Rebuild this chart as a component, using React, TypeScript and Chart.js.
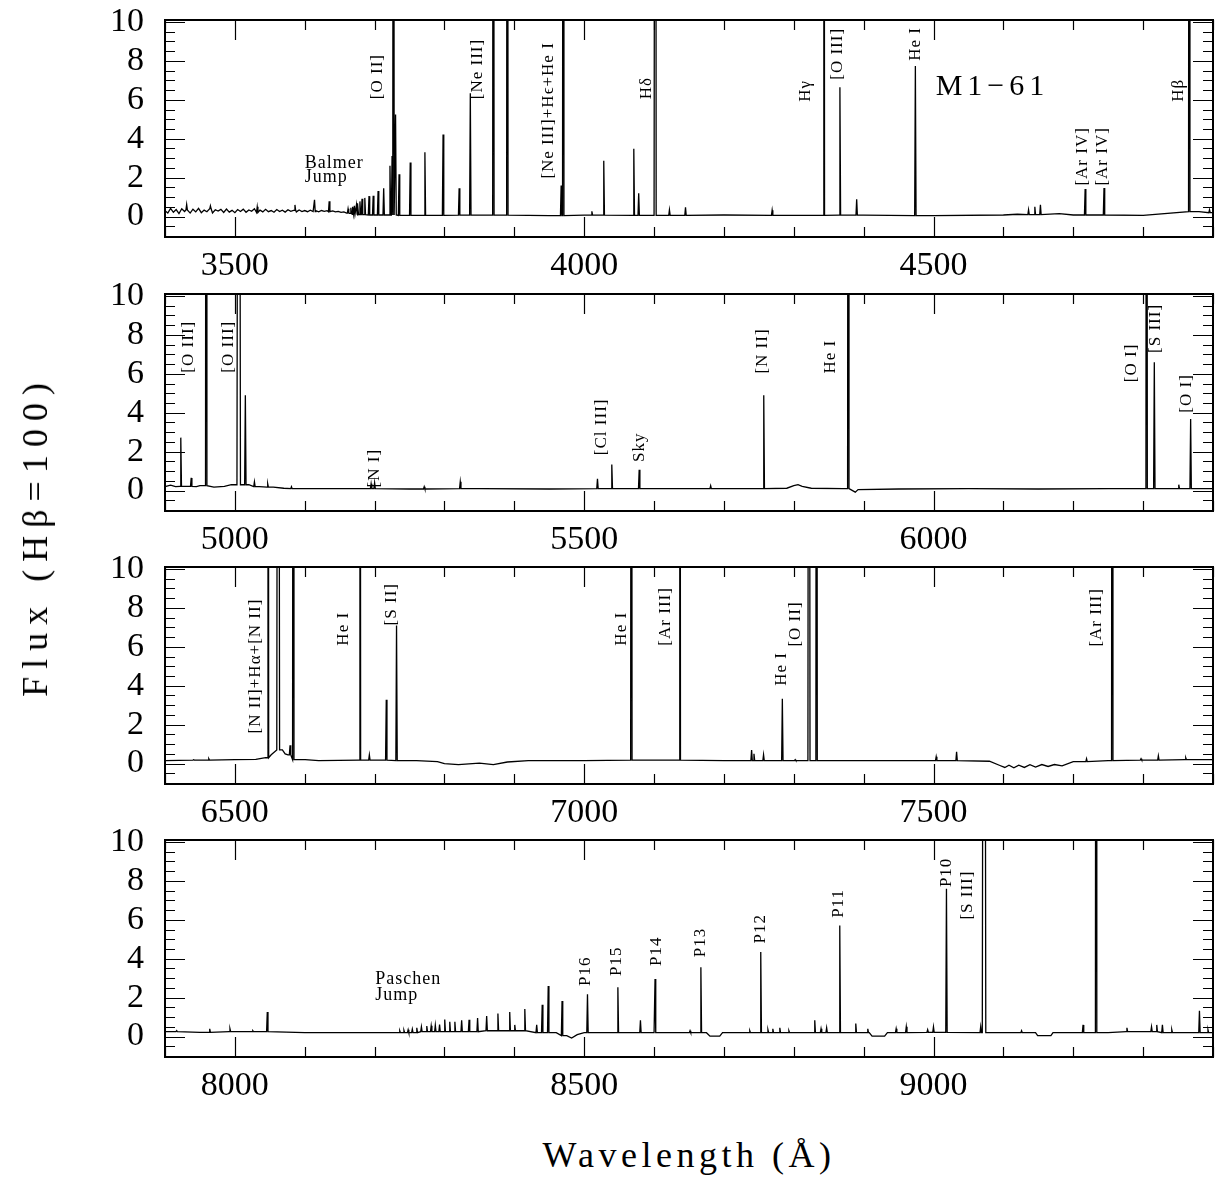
import React, { useEffect, useRef } from "react";
import { Chart, registerables } from "chart.js";

Chart.register(...registerables);

// ---------------- DATA ----------------
const PANEL_RANGES: number[][] = [
  [3400, 4900],
  [4900, 6400],
  [6400, 7900],
  [7900, 9400],
];
const X_TICK_LABELS: number[][] = [
  [3500, 4000, 4500],
  [5000, 5500, 6000],
  [6500, 7000, 7500],
  [8000, 8500, 9000],
];
const Y_TICK_LABELS: number[] = [0, 2, 4, 6, 8, 10];
const Y_RANGE: number[] = [-1.05, 10.1];

// continuum samples [wavelength, flux]
const P1_CONT: number[][] = [
  [3400, 0.3], [3404, 0.18], [3408, 0.42], [3412, 0.22], [3416, 0.36], [3420, 0.15], [3424, 0.4], [3428, 0.26],
  [3432, 0.34], [3436, 0.18], [3440, 0.38], [3444, 0.24], [3448, 0.42], [3452, 0.2], [3456, 0.33], [3460, 0.25],
  [3464, 0.4], [3468, 0.19], [3472, 0.35], [3476, 0.28], [3480, 0.37], [3484, 0.21], [3488, 0.39], [3492, 0.23],
  [3496, 0.32], [3500, 0.2], [3504, 0.36], [3508, 0.26], [3512, 0.38], [3516, 0.22], [3520, 0.34], [3524, 0.27],
  [3528, 0.4], [3532, 0.21], [3536, 0.33], [3540, 0.24], [3544, 0.37], [3548, 0.25], [3552, 0.31], [3556, 0.22],
  [3560, 0.36], [3564, 0.26], [3568, 0.33], [3572, 0.23], [3576, 0.35], [3580, 0.27], [3584, 0.32], [3588, 0.24],
  [3592, 0.34], [3596, 0.26], [3600, 0.31], [3604, 0.25], [3608, 0.33], [3612, 0.26], [3616, 0.3], [3620, 0.24],
  [3624, 0.31], [3628, 0.27], [3632, 0.3], [3636, 0.25], [3640, 0.29], [3644, 0.24], [3648, 0.27], [3652, 0.22],
  [3656, 0.24], [3660, 0.18], [3664, 0.16], [3668, 0.12], [3680, 0.1], [3700, 0.08], [3760, 0.06], [3850, 0.07],
  [3950, 0.05], [4000, 0.07], [4100, 0.06], [4200, 0.08], [4300, 0.06], [4400, 0.07], [4500, 0.05], [4600, 0.08],
  [4620, 0.12], [4640, 0.1], [4680, 0.15], [4700, 0.08], [4800, 0.06], [4880, 0.25], [4900, 0.2],
];
// emission lines [wavelength, peak, half-width(A) optional]
const P1_LINES: number[][] = [
  [3431, 0.62], [3465, 0.55], [3532, 0.5], [3586, 0.6], [3614, 0.86], [3635, 0.79],
  [3662, 0.4], [3666, 0.45], [3669, 0.5], [3671, 0.55], [3674, 0.6], [3676, 0.68], [3679, 0.78],
  [3682, 0.91], [3686, 0.96], [3692, 1.05], [3698, 1.07], [3705, 1.31], [3713, 1.45], [3722, 2.61],
  [3725, 3.11], [3727, 60], [3730, 5.25], [3735, 2.17], [3751, 2.78], [3772, 3.3], [3798, 4.22],
  [3821, 1.45], [3837, 6.34], [3870, 60], [3890, 60], [3967, 1.6], [3970, 60], [4011, 0.27],
  [4028, 2.87], [4071, 3.48], [4078, 1.2], [4102, 60], [4122, 0.34], [4145, 0.48], [4269, 0.33],
  [4343, 60], [4366, 6.64], [4390, 0.89], [4474, 7.73], [4636, 0.35], [4645, 0.5], [4653, 0.6],
  [4717, 1.42], [4744, 1.47], [4866, 60], [4895, 0.35],
];
const P2_CONT: number[][] = [
  [4900, 0.2], [4908, 0.28], [4915, 0.2], [4930, 0.22], [4945, 0.2], [4950, 0.25], [4970, 0.18], [4985, 0.22],
  [4995, 0.3], [5020, 0.3], [5035, 0.2], [5055, 0.18], [5070, 0.12], [5090, 0.1], [5150, 0.1], [5250, 0.08],
  [5350, 0.1], [5450, 0.08], [5550, 0.1], [5650, 0.1], [5750, 0.1], [5790, 0.12], [5800, 0.25], [5806, 0.3],
  [5812, 0.22], [5825, 0.12], [5870, 0.1], [5888, -0.08], [5892, 0.05], [5950, 0.08], [6050, 0.1], [6150, 0.08],
  [6250, 0.1], [6400, 0.1],
];
const P2_LINES: number[][] = [
  [4922.6, 2.72], [4937.5, 0.65], [4959, 60], [5005.5, 60, 2.5], [5015, 4.9], [5028, 0.45], [5047, 0.35],
  [5081, 0.2], [5195, 0.35], [5200, 0.4], [5271, 0.2], [5322.6, 0.45], [5519, 0.6], [5539.5, 1.34],
  [5578.7, 1.07], [5681, 0.25], [5757, 4.9], [5878, 60], [6305, 60], [6316, 6.59], [6351, 0.3], [6368, 3.68],
];
const P3_CONT: number[][] = [
  [6400, 0.15], [6450, 0.18], [6500, 0.2], [6530, 0.22], [6544, 0.3], [6552, 0.45], [6568, 0.7], [6572, 0.5],
  [6576, 0.45], [6590, 0.2], [6620, 0.15], [6700, 0.18], [6760, 0.15], [6790, 0.1], [6800, 0.0], [6820, -0.05],
  [6850, 0.02], [6870, -0.05], [6890, 0.08], [6920, 0.15], [7000, 0.15], [7100, 0.18], [7200, 0.15], [7300, 0.15],
  [7400, 0.15], [7500, 0.15], [7580, 0.12], [7595, -0.1], [7602, -0.2], [7608, -0.08], [7615, -0.22], [7622, -0.08],
  [7630, -0.2], [7638, -0.06], [7646, -0.18], [7655, -0.05], [7664, -0.15], [7673, -0.05], [7684, -0.12],
  [7700, 0.1], [7750, 0.15], [7800, 0.18], [7900, 0.2],
];
const P3_LINES: number[][] = [
  [6441, 0.2], [6462.7, 0.25], [6547.4, 60], [6562, 60, 2], [6579, 0.94], [6583.6, 60], [6600.6, 0.2],
  [6679, 60], [6692.5, 0.45], [6716.7, 3.28], [6731.4, 7.1], [7067.5, 60], [7136.8, 60], [7239.6, 0.7],
  [7243, 0.5], [7256.7, 0.45], [7283.6, 3.33], [7302, 0.2], [7321.7, 60, 1.5], [7332.6, 60], [7503.8, 0.35],
  [7533, 0.6], [7719, 0.25], [7755.8, 60], [7797, 0.25], [7821.8, 0.4], [7861, 0.3],
];
const P4_CONT: number[][] = [
  [7900, 0.25], [7950, 0.22], [8000, 0.25], [8100, 0.2], [8200, 0.2], [8230, 0.2], [8300, 0.25], [8400, 0.3],
  [8460, 0.2], [8475, 0.05], [8482, -0.08], [8490, 0.1], [8500, 0.2], [8600, 0.2], [8675, 0.2], [8680, 0.02],
  [8694, 0.02], [8698, 0.2], [8800, 0.2], [8908, 0.2], [8912, 0.02], [8930, 0.02], [8934, 0.2], [9000, 0.22],
  [9100, 0.2], [9146, 0.2], [9149, 0.05], [9168, 0.05], [9171, 0.2], [9250, 0.2], [9300, 0.25], [9350, 0.2],
  [9400, 0.2],
];
const P4_LINES: number[][] = [
  [7916.7, 0.3], [7964, 0.4], [7993, 0.4], [8025.7, 0.3], [8046.4, 1.26], [8236, 0.3], [8242, 0.32],
  [8248, 0.35], [8254, 0.38], [8260.4, 0.45], [8267, 0.5], [8274.7, 0.54], [8281, 0.55], [8286.9, 0.59],
  [8293, 0.62], [8300.4, 0.88], [8307.6, 0.76], [8314.9, 0.76], [8324.6, 0.83], [8335.2, 0.86], [8347.4, 0.95],
  [8360.4, 1.05], [8376.5, 1.18], [8393.4, 1.26], [8400.6, 0.6], [8415, 1.41], [8432, 0.6], [8439.9, 1.64],
  [8448.5, 2.6], [8468.3, 1.83], [8504.7, 2.17], [8548.2, 2.53], [8580.5, 0.83], [8601.4, 2.96], [8651.5, 0.3],
  [8667, 3.56], [8737, 0.3], [8752.7, 4.35], [8763, 0.35], [8770, 0.4], [8780, 0.45], [8793, 0.3], [8830, 0.84],
  [8839, 0.4], [8847, 0.45], [8865.8, 5.71], [8888.7, 0.67], [8905.9, 0.4], [8946.5, 0.4], [8961, 0.5],
  [8991.6, 0.35], [8999.9, 0.5], [9018.5, 7.59], [9067.5, 0.5], [9072.3, 60, 2.5], [9126, 0.3], [9214, 0.6],
  [9232.7, 60], [9276.8, 0.45], [9312, 0.5], [9319.5, 0.6], [9327.6, 0.6], [9341, 0.35], [9380.6, 1.33],
  [9392.8, 0.35],
];

// line identifications: [text, wavelength, flux at start of text]
const P1_IDS: (string | number)[][] = [
  ["[O II]", 3704.6, 6.03], ["[Ne III]", 3847.4, 6.03], ["[Ne III]+H\u03f5+He I", 3949, 1.95],
  ["H\u03b4", 4089, 6.03], ["H\u03b3", 4316.4, 5.9], ["[O III]", 4363, 7.03], ["He I", 4474.6, 8.0],
  ["[Ar IV]", 4712.7, 1.59], ["[Ar IV]", 4742, 1.59], ["H\u03b2", 4851, 5.9],
];
const P2_IDS: (string | number)[][] = [
  ["[O III]", 4933.6, 6.06], ["[O III]", 4991.3, 6.06], ["[N I]", 5199.8, 0.16], ["[Cl III]", 5525, 1.82],
  ["Sky", 5579.5, 1.47], ["[N II]", 5755.6, 6.01], ["He I", 5852.9, 6.01], ["[O I]", 6282.7, 5.57],
  ["[S III]", 6318.3, 7.07], ["[O I]", 6362.4, 4.0],
];
const P3_IDS: (string | number)[][] = [
  ["[N II]+H\u03b1+[N II]", 6529, 1.55], ["He I", 6656.2, 6.06], ["[S II]", 6724, 7.1], ["He I", 7053, 6.06],
  ["[Ar III]", 7115.9, 6.06], ["He I", 7283, 4.0], ["[O II]", 7303, 6.01], ["[Ar III]", 7733.6, 6.01],
];
const P4_IDS: (string | number)[][] = [
  ["P16", 8502.3, 2.6], ["P15", 8545.8, 3.11], ["P14", 8603.9, 3.63], ["P13", 8667.1, 4.08],
  ["P12", 8751.7, 4.78], ["P11", 8864.4, 6.1], ["P10", 9018, 7.68], ["[S III]", 9049.3, 6.01],
];
// horizontal notes: [text, wavelength (left), flux (baseline)]
const P1_NOTES: (string | number)[][] = [["Balmer", 3600, 2.51], ["Jump", 3600, 1.79], ["M1\u221261", 4503, 6.24]];
const P4_NOTES: (string | number)[][] = [["Paschen", 8201, 2.68], ["Jump", 8201, 1.87]];

const X_TITLE = "Wavelength (\u00c5)";
const Y_TITLE = "Flux (H\u03b2=100)";

const PANELS = [
  { cont: P1_CONT, lines: P1_LINES, ids: P1_IDS, notes: P1_NOTES },
  { cont: P2_CONT, lines: P2_LINES, ids: P2_IDS, notes: [] as (string | number)[][] },
  { cont: P3_CONT, lines: P3_LINES, ids: P3_IDS, notes: [] as (string | number)[][] },
  { cont: P4_CONT, lines: P4_LINES, ids: P4_IDS, notes: P4_NOTES },
];

// ---------------- LAYOUT / STYLE ----------------
const PANEL_TOPS = [20, 294, 567, 840];
const CANVAS_W = 1216;
const CANVAS_H = 275;
const PAD_TOP = 12;
const SERIF = '"Liberation Serif", "DejaVu Serif", serif';

function buildSpectrum(cont: number[][], lines: number[][]) {
  const windows = lines.map((l) => [l[0] - (l[2] ?? 1), l[0] + (l[2] ?? 1)]);
  const pts: { x: number; y: number }[] = [];
  for (const [x, y] of cont) {
    if (!windows.some(([a, b]) => x > a && x < b)) pts.push({ x, y });
  }
  for (const l of lines) {
    const hw = l[2] ?? 1;
    let base = cont[0][1];
    let best = Infinity;
    for (const c of cont) {
      const d = Math.abs(c[0] - l[0]);
      if (d < best) { best = d; base = c[1]; }
    }
    pts.push({ x: l[0] - hw, y: base }, { x: l[0], y: l[1] }, { x: l[0] + hw, y: base });
  }
  pts.sort((a, b) => a.x - b.x);
  return pts;
}

const framePlugin = {
  id: "frameTicks",
  afterDatasetsDraw(chart: any) {
    const { ctx, chartArea, scales } = chart;
    const { left, right, top, bottom } = chartArea;
    const x = scales.x, y = scales.y;
    ctx.save();
    ctx.strokeStyle = "#000";
    ctx.lineWidth = 1.2;
    ctx.beginPath();
    for (let v = Math.ceil(x.min / 100) * 100; v <= x.max; v += 100) {
      const px = Math.round(x.getPixelForValue(v)) + 0.5;
      const len = v % 500 === 0 ? 20 : 10;
      ctx.moveTo(px, bottom); ctx.lineTo(px, bottom - len);
      ctx.moveTo(px, top); ctx.lineTo(px, top + len);
    }
    for (let k = Math.ceil(y.min * 2); k <= Math.floor(y.max * 2); k++) {
      const v = k / 2;
      const py = Math.round(y.getPixelForValue(v)) + 0.5;
      const len = v % 2 === 0 ? 20 : 10;
      ctx.moveTo(left, py); ctx.lineTo(left + len, py);
      ctx.moveTo(right, py); ctx.lineTo(right - len, py);
    }
    ctx.stroke();
    ctx.lineWidth = 2;
    ctx.strokeRect(left, top, right - left, bottom - top);
    ctx.restore();
  },
};

const textPlugin = {
  id: "lineIds",
  afterDatasetsDraw(chart: any, _args: any, opts: any) {
    const { ctx, scales } = chart;
    const x = scales.x, y = scales.y;
    ctx.save();
    ctx.fillStyle = "#000";
    for (const [txt, lam, val] of opts.ids || []) {
      const px = x.getPixelForValue(lam), py = y.getPixelForValue(val);
      ctx.save();
      ctx.translate(px, py);
      ctx.rotate(-Math.PI / 2);
      ctx.font = `17px ${SERIF}`;
      (ctx as any).letterSpacing = "1px";
      ctx.textAlign = "left";
      ctx.textBaseline = "middle";
      ctx.fillText(txt, 0, 0);
      ctx.restore();
    }
    for (const [txt, lam, val] of opts.notes || []) {
      const px = x.getPixelForValue(lam), py = y.getPixelForValue(val);
      const big = String(txt).startsWith("M1");
      ctx.font = big ? `30px ${SERIF}` : `18px ${SERIF}`;
      (ctx as any).letterSpacing = big ? "5px" : "1px";
      ctx.textAlign = "left";
      ctx.textBaseline = "alphabetic";
      ctx.fillText(txt, px, py);
    }
    ctx.restore();
  },
};

function Panel({ index }: { index: number }) {
  const ref = useRef<HTMLCanvasElement>(null);
  useEffect(() => {
    const p = PANELS[index];
    const chart = new Chart(ref.current as HTMLCanvasElement, {
      type: "line",
      data: {
        datasets: [
          {
            data: buildSpectrum(p.cont, p.lines),
            borderColor: "#000",
            borderWidth: 1.3,
            pointRadius: 0,
            tension: 0,
            fill: false,
          },
        ],
      },
      options: {
        responsive: false,
        maintainAspectRatio: false,
        animation: false,
        events: [],
        layout: { padding: { top: PAD_TOP, right: 3, left: 0, bottom: 0 } },
        plugins: {
          legend: { display: false },
          tooltip: { enabled: false },
          lineIds: { ids: p.ids, notes: p.notes },
        } as any,
        scales: {
          x: {
            type: "linear",
            min: PANEL_RANGES[index][0],
            max: PANEL_RANGES[index][1],
            grid: { display: false, drawTicks: false },
            border: { display: false },
            afterBuildTicks: (s: any) => {
              s.ticks = X_TICK_LABELS[index].map((v) => ({ value: v }));
            },
            afterFit: (s: any) => {
              s.height = 46;
              s.paddingLeft = 0; s.paddingRight = 0; s.paddingTop = 0; s.paddingBottom = 0;
            },
            ticks: {
              autoSkip: false,
              maxRotation: 0,
              padding: 9,
              color: "#000",
              font: { family: SERIF, size: 34 },
              callback: (v: any) => String(v),
            },
          },
          y: {
            type: "linear",
            min: Y_RANGE[0],
            max: Y_RANGE[1],
            grid: { display: false, drawTicks: false },
            border: { display: false },
            afterBuildTicks: (s: any) => {
              s.ticks = Y_TICK_LABELS.map((v) => ({ value: v }));
            },
            afterFit: (s: any) => {
              s.width = 165;
              s.paddingLeft = 0; s.paddingRight = 0; s.paddingTop = 0; s.paddingBottom = 0;
            },
            ticks: {
              autoSkip: false,
              padding: 21,
              color: "#000",
              font: { family: SERIF, size: 34 },
              callback: (v: any) => String(v),
            },
          },
        },
      },
      plugins: [framePlugin, textPlugin],
    } as any);
    return () => chart.destroy();
  }, [index]);
  return (
    <canvas
      ref={ref}
      width={CANVAS_W}
      height={CANVAS_H}
      style={{ position: "absolute", left: 0, top: PANEL_TOPS[index] - PAD_TOP, width: CANVAS_W, height: CANVAS_H }}
    />
  );
}

export default function App() {
  return (
    <div style={{ position: "absolute", left: 0, top: 0, width: 1216, height: 1178, background: "#fff", overflow: "hidden" }}>
      {PANELS.map((_, i) => (
        <Panel key={i} index={i} />
      ))}
      <div
        style={{
          position: "absolute",
          left: 165,
          width: 1048,
          top: 1134,
          textAlign: "center",
          fontFamily: SERIF,
          fontSize: 36,
          letterSpacing: "4.5px",
          lineHeight: "42px",
          color: "#000",
          whiteSpace: "nowrap",
        }}
      >
        {X_TITLE}
      </div>
      <div
        style={{
          position: "absolute",
          left: 35,
          top: 536,
          transform: "translate(-50%, -50%) rotate(-90deg)",
          fontFamily: SERIF,
          fontSize: 36,
          letterSpacing: "8px",
          lineHeight: "42px",
          color: "#000",
          whiteSpace: "nowrap",
        }}
      >
        {Y_TITLE}
      </div>
    </div>
  );
}
